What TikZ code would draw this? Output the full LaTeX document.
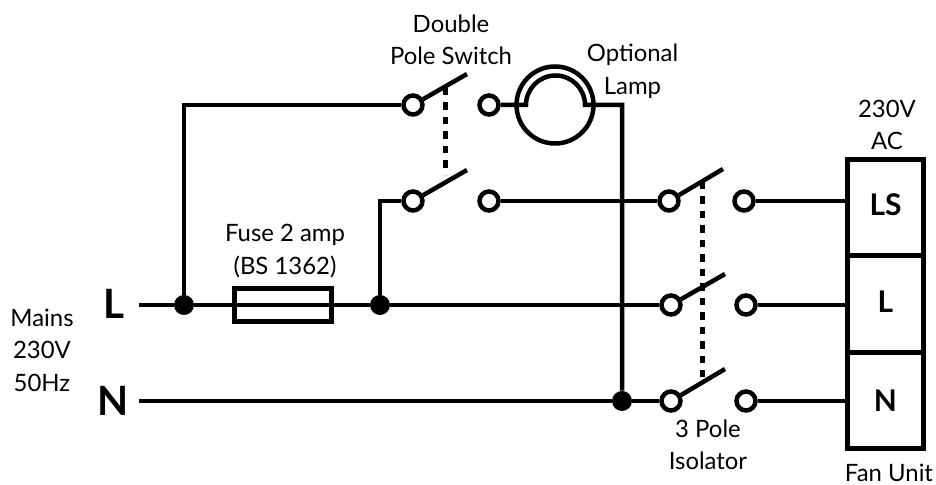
\documentclass[tikz,border=0pt]{standalone}
\usepackage{fontspec}
\setmainfont{Lato}
\usetikzlibrary{positioning,calc}

\begin{document}
\begin{tikzpicture}[
        wire/.style={line width=0.09cm, line join=miter},
        terminal/.style={circle, draw, line width=0.09cm, fill=white, inner sep=0pt, minimum size=0.38cm},
        junction/.style={circle, fill=black, inner sep=0pt, minimum size=0.4cm},
        link/.style={line width=0.1cm, dash pattern=on 0.15cm off 0.14cm},
        cell/.style={rectangle, draw, line width=0.1cm, minimum width=1.534cm, minimum height=1.93cm, font=\fontsize{17}{18}\selectfont\bfseries},
        note/.style={align=center, inner sep=0pt, font=\fontsize{13.6}{18.5}\selectfont},
        phase/.style={inner sep=0pt, font=\fontsize{23}{24}\selectfont\bfseries}
    ]
    \useasboundingbox (0,0) rectangle (18.72,9.7);

    % Double pole switch terminals
    \node[terminal] (dsa) at (8.26,7.6) {};
    \node[terminal] (dsb) at (9.78,7.6) {};
    \node[terminal] (dsc) at (8.26,5.68) {};
    \node[terminal] (dsd) at (9.78,5.68) {};

    % 3 pole isolator terminals
    \node[terminal] (isoa) at (13.38,5.68) {};
    \node[terminal] (isob) at (14.88,5.68) {};
    \node[terminal] (isoc) at (13.42,3.6) {};
    \node[terminal] (isod) at (14.92,3.6) {};
    \node[terminal] (isoe) at (13.42,1.68) {};
    \node[terminal] (isof) at (14.92,1.68) {};

    % Fan unit
    \node[cell] (ls) at (17.71,5.55) {\raisebox{0.1cm}{LS}};
    \node[cell] (live) at (17.71,3.62) {\raisebox{0.1cm}{L}};
    \node[cell] (neutral) at (17.71,1.69) {N};

    % Junctions and fuse
    \node[junction] (dotl) at (3.68,3.6) {};
    \node[junction] (dotf) at (7.6,3.6) {};
    \node[junction] (dotn) at (12.44,1.68) {};
    \node[rectangle, draw, line width=0.1cm, minimum width=1.95cm, minimum height=0.66cm] (fuse) at (5.66,3.6) {};

    % Lamp
    \node[circle, draw, line width=0.09cm, inner sep=0pt, minimum size=1.54cm] (lamp) at (11.1,7.6) {};
    \coordinate (lampl) at (10.52,7.6);

    % Free ends of the wires and blades
    \coordinate (lstart) at (2.78,3.6);
    \coordinate (nstart) at (2.78,1.68);
    \coordinate (blta) at (9.34,8.22);
    \coordinate (bltb) at (9.34,6.3);
    \coordinate (blia) at (14.46,6.32);
    \coordinate (blib) at (14.5,4.22);
    \coordinate (blic) at (14.5,2.32);

    % Wiring
    \draw[wire] (lstart) -- (dotl);
    \draw[wire] (dotl) -- (dotf);
    \draw[wire] (dotf) -- (isoc);
    \draw[wire] (nstart) -- (dotn);
    \draw[wire] (dotn) -- (isoe);
    \draw[wire] (dotl) |- (dsa);
    \draw[wire] (dotf) |- (dsc);
    \draw[wire] (dsd) -- (isoa);
    \draw[wire] (dsb) -- (lampl) arc[start angle=180, end angle=0, radius=0.59cm] -| (dotn);
    \draw[wire] (isob) -- (isob -| ls.west);
    \draw[wire] (isod) -- (isod -| live.west);
    \draw[wire] (isof) -- (isof -| neutral.west);

    % Switch blades
    \draw[wire] (dsa) -- (blta);
    \draw[wire] (dsc) -- (bltb);
    \draw[wire] (isoa) -- (blia);
    \draw[wire] (isoc) -- (blib);
    \draw[wire] (isoe) -- (blic);

    % Mechanical links
    \draw[link] (8.9,7.94) -- (8.9,6.2);
    \draw[link] (14.04,6.06) -- (14.04,2.16);

    % Labels
    \node[note] (dslabel) at (9.02,8.9) {Double\\Pole Switch};
    \node[note] (lamplabel) at (12.65,8.28) {Optional\\Lamp};
    \node[note] (fuselabel) at (5.7,4.68) {Fuse 2 amp\\(BS 1362)};
    \node[note] (mains) at (0.84,2.7) {Mains\\230V\\50Hz};
    \node[note] (isolabel) at (14.16,0.8) {3 Pole\\Isolator};
    \node[note] (ac) at (17.74,7.2) {230V\\AC};
    \node[note] (fan) at (17.78,0.24) {Fan Unit};
    \node[phase] (lphase) at (2.28,3.62) {L};
    \node[phase] (nphase) at (2.26,1.68) {N};

\end{tikzpicture}
\end{document}
